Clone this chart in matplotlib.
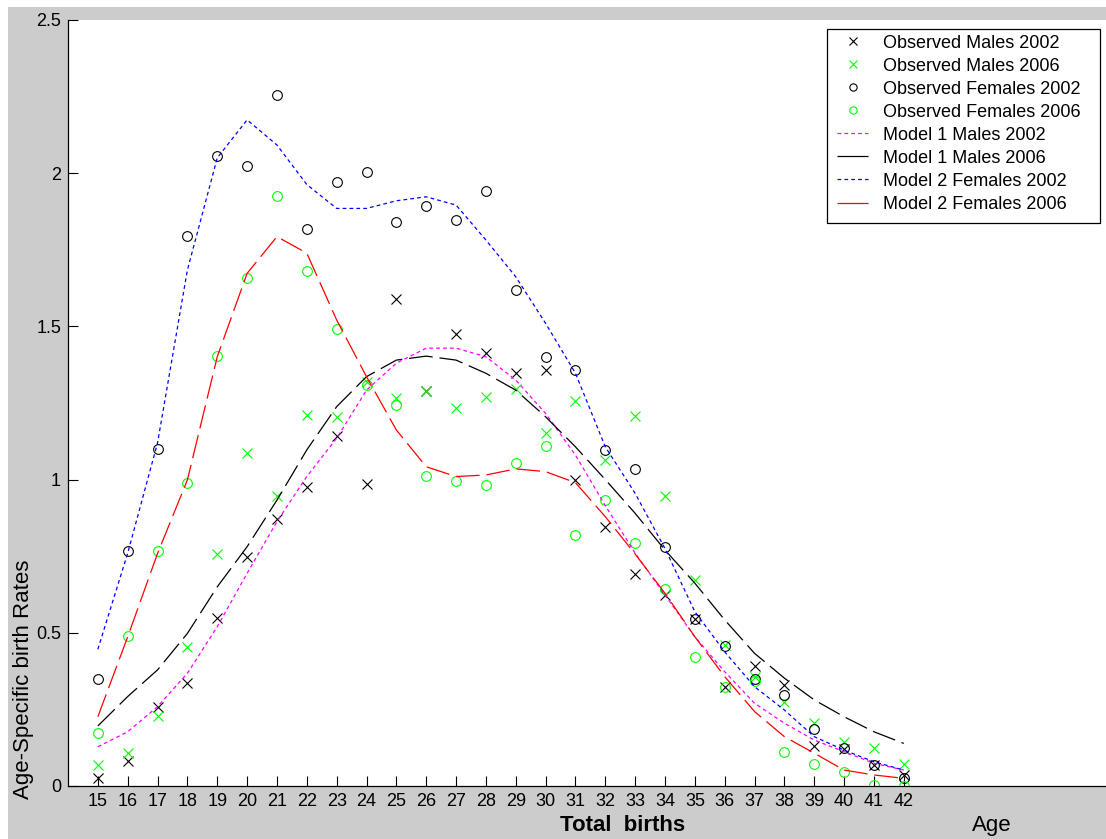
import matplotlib
matplotlib.use("Agg")
import matplotlib.pyplot as plt
from matplotlib.patches import Rectangle

plt.rcParams['font.family'] = ['Liberation Sans', 'DejaVu Sans']

ages = list(range(15, 43))

obs_males_2002 = [0.025, 0.083, 0.259, 0.335, 0.547, 0.746, 0.870, 0.977, 1.143, 0.985,
                  1.590, 1.289, 1.476, 1.414, 1.349, 1.357, 1.000, 0.844, 0.691, 0.623,
                  0.544, 0.324, 0.392, 0.330, 0.131, 0.120, 0.070, 0.035]
obs_males_2006 = [0.068, 0.107, 0.228, 0.453, 0.756, 1.088, 0.946, 1.210, 1.205, 1.320,
                  1.267, 1.289, 1.234, 1.271, 1.296, 1.153, 1.258, 1.065, 1.209, 0.948,
                  0.672, 0.460, 0.355, 0.275, 0.205, 0.145, 0.123, 0.072]
obs_females_2002 = [0.349, 0.767, 1.099, 1.795, 2.056, 2.023, 2.255, 1.819, 1.970, 2.004,
                    1.842, 1.894, 1.846, 1.941, 1.620, 1.400, 1.357, 1.097, 1.034, 0.781,
                    0.544, 0.457, 0.350, 0.297, 0.185, 0.123, 0.069, 0.025]
obs_females_2006 = [0.172, 0.490, 0.767, 0.990, 1.405, 1.657, 1.927, 1.681, 1.490, 1.309,
                    1.243, 1.011, 0.995, 0.984, 1.053, 1.111, 0.820, 0.935, 0.793, 0.642,
                    0.422, 0.324, 0.344, 0.112, 0.072, 0.045, 0.003, 0.000]

model1_males_2002 = [0.128, 0.177, 0.259, 0.368, 0.520, 0.694, 0.863, 1.010, 1.135, 1.292,
                     1.380, 1.429, 1.429, 1.401, 1.325, 1.216, 1.080, 0.915, 0.760, 0.623,
                     0.487, 0.373, 0.270, 0.205, 0.150, 0.112, 0.074, 0.052]
model1_males_2006 = [0.196, 0.292, 0.379, 0.498, 0.650, 0.781, 0.933, 1.097, 1.238, 1.336,
                     1.390, 1.403, 1.390, 1.347, 1.292, 1.205, 1.107, 1.000, 0.890, 0.770,
                     0.662, 0.542, 0.433, 0.352, 0.281, 0.226, 0.177, 0.139]
model2_females_2002 = [0.446, 0.760, 1.120, 1.684, 2.050, 2.174, 2.092, 1.963, 1.885, 1.885,
                       1.910, 1.923, 1.896, 1.782, 1.662, 1.510, 1.347, 1.107, 0.955, 0.775,
                       0.569, 0.438, 0.324, 0.248, 0.161, 0.117, 0.079, 0.052]
model2_females_2006 = [0.226, 0.487, 0.759, 0.999, 1.401, 1.673, 1.793, 1.739, 1.521, 1.336,
                       1.162, 1.042, 1.010, 1.015, 1.035, 1.026, 0.990, 0.879, 0.757, 0.629,
                       0.487, 0.357, 0.243, 0.161, 0.107, 0.052, 0.036, 0.025]

labels = ['Observed Males 2002', 'Observed Males 2006', 'Observed Females 2002',
          'Observed Females 2006', 'Model 1 Males 2002', 'Model 1 Males 2006',
          'Model 2 Females 2002', 'Model 2 Females 2006']
yticks = [0, 0.5, 1, 1.5, 2, 2.5]
ytick_labels = ['0', '0.5', '1', '1.5', '2', '2.5']

W, H = 1106, 839
fig = plt.figure(figsize=(W / 100, H / 100), dpi=100, facecolor='#cccccc')
fig.patches.append(Rectangle((0, 1 - 7 / H), 1, 7 / H, transform=fig.transFigure,
                             facecolor='white', edgecolor='none', zorder=-5))
fig.patches.append(Rectangle((0, 0), 8 / W, 1, transform=fig.transFigure,
                             facecolor='white', edgecolor='none', zorder=-5))

ax_l, ax_r, ax_t, ax_b = 68, 1106, 20, 786
ax = fig.add_axes([ax_l / W, (H - ax_b) / H, (ax_r - ax_l) / W, (ax_b - ax_t) / H])
ax.set_facecolor('white')
px_per_unit = 29.85
ax.set_xlim(14, 14 + (ax_r - ax_l) / px_per_unit)
ax.set_ylim(0, 2.5)

ms, mew = 7, 0.8
h1, = ax.plot(ages, obs_males_2002, ls='none', marker='x', color='black', ms=ms, mew=mew)
h2, = ax.plot(ages, obs_males_2006, ls='none', marker='x', color='#00ff00', ms=ms, mew=mew)
h3, = ax.plot(ages, obs_females_2002, ls='none', marker='o', mfc='none', mec='black', ms=ms, mew=mew)
h4, = ax.plot(ages, obs_females_2006, ls='none', marker='o', mfc='none', mec='#00ff00', ms=ms, mew=mew)

lw = 0.9
h5, = ax.plot(ages, model1_males_2002, color='#ff00ff', lw=lw, dashes=(3, 2.5))
h6, = ax.plot(ages, model1_males_2006, color='black', lw=lw, dashes=(19, 5.5))
h7, = ax.plot(ages, model2_females_2002, color='#0000ff', lw=lw, dashes=(3, 2.5))
h8, = ax.plot(ages, model2_females_2006, color='#ff0000', lw=lw, dashes=(19, 5.5))

ax.set_xticks(ages)
ax.set_xticklabels([str(a) for a in ages])
ax.set_yticks(yticks)
ax.set_yticklabels(ytick_labels)
ax.tick_params(direction='in', length=7.5, width=0.8, labelsize=13, colors='black')
ax.tick_params(axis='x', pad=5)
ax.tick_params(axis='y', pad=5)
for s in ['top', 'right']:
    ax.spines[s].set_visible(False)
for s in ['left', 'bottom']:
    ax.spines[s].set_linewidth(0.9)
    ax.spines[s].set_color('black')

# legend frame drawn as a box in figure pixels
box_l, box_r, box_t, box_b = 827, 1100, 29, 223
frame = Rectangle((box_l / W, 1 - box_b / H), (box_r - box_l) / W, (box_b - box_t) / H,
                  transform=fig.transFigure, facecolor='white', edgecolor='black',
                  linewidth=0.9, zorder=4)
ax.add_artist(frame)
frame.set_clip_on(False)

leg = ax.legend([h1, h2, h3, h4, h5, h6, h7, h8], labels, loc='upper left',
                bbox_to_anchor=(837 / W, 1 - 34.5 / H), bbox_transform=fig.transFigure,
                fontsize=13, frameon=False, borderpad=0, labelspacing=0.335,
                handlelength=1.72, handletextpad=0.83, borderaxespad=0,
                markerscale=0.75)
leg.set_zorder(5)
leg_lines = leg.get_lines()
for i in (5, 7):
    leg_lines[i].set_dashes((40, 5))

fig.text(623 / W, 1 - 831 / H, 'Total  births', ha='center', va='baseline',
         fontsize=16, fontweight='bold')
fig.text(992 / W, 1 - 831 / H, 'Age', ha='center', va='baseline', fontsize=16)
fig.text(24 / W, 1 - 799 / H, 'Age-Specific birth Rates', rotation=90,
         ha='center', va='bottom', fontsize=16)

fig.savefig('out.png', dpi=100, facecolor=fig.get_facecolor())
